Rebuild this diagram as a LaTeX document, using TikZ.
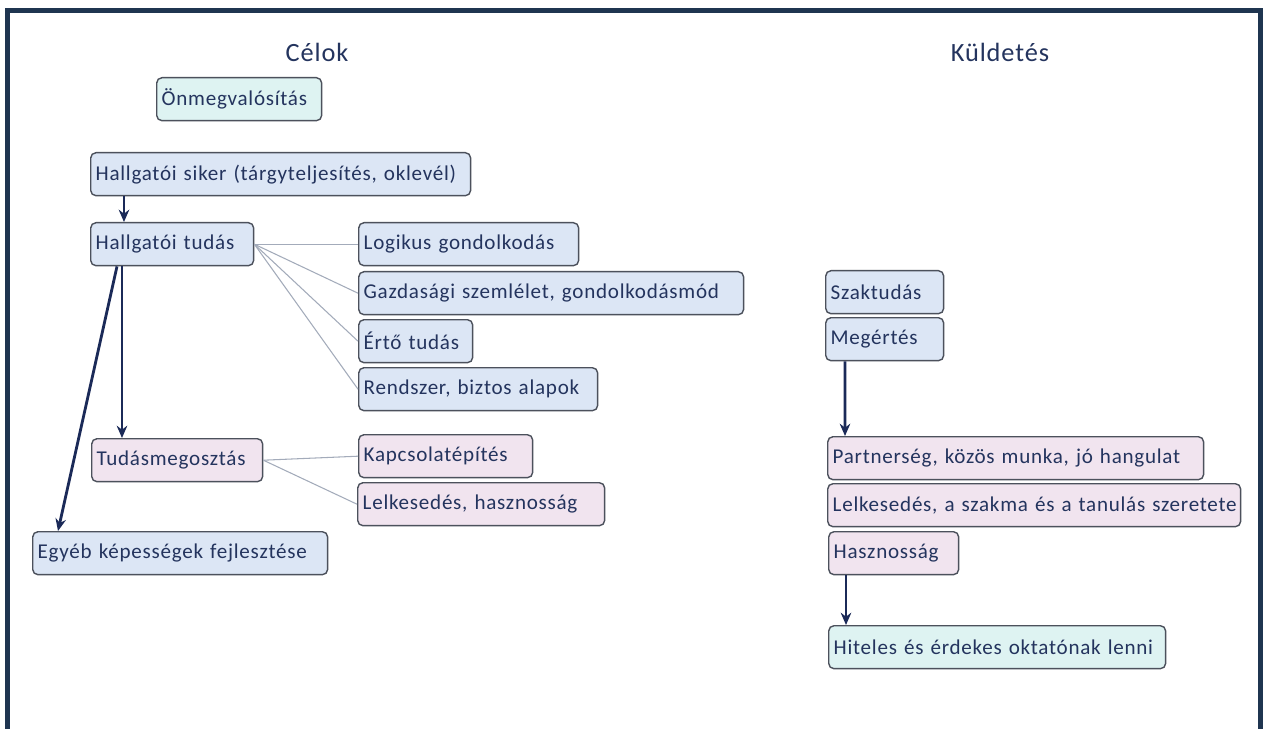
\documentclass[tikz,border=0pt]{standalone}
\usepackage{fontspec}
\setmainfont{Carlito}[LetterSpace=3.5]
\usepackage{tikz}
\usetikzlibrary{arrows.meta,positioning,calc}

\definecolor{frame}{HTML}{1F3550}
\definecolor{ink}{HTML}{24345E}
\definecolor{edge}{HTML}{4C515C}
\definecolor{flowc}{HTML}{1B2A58}
\definecolor{thinc}{HTML}{A3ABBA}
\definecolor{kekfill}{HTML}{DCE6F5}
\definecolor{rozsafill}{HTML}{F1E4EF}
\definecolor{turkizfill}{HTML}{DEF3F2}

\tikzset{
  box/.style={draw=edge, line width=0.8pt, rounded corners=3pt, anchor=north west,
    inner xsep=0.1cm, inner ysep=0pt, minimum height=0.86cm, text width=#1,
    align=left, text=ink, font=\fontsize{12}{14}\selectfont},
  kekbox/.style={box=#1, fill=kekfill},
  rozsabox/.style={box=#1, fill=rozsafill},
  turkizbox/.style={box=#1, fill=turkizfill},
  flow/.style={draw=flowc, line width=1.6pt, -{Stealth[length=7pt,width=6pt]}},
  thin line/.style={draw=thinc, line width=0.6pt},
  title/.style={text=ink, font=\fontsize{15}{17}\selectfont}
}

\begin{document}
\begin{tikzpicture}[x=0.02cm,y=-0.02cm]
\useasboundingbox[fill=white] (0,0) rectangle (1270,729);
% keret
\draw[frame, line width=0.1cm] (7.5,729) -- (7.5,10.5) -- (1260.5,10.5) -- (1260.5,729);

% Celok
\node[title] (celok) at (317,52) {Célok};
\node[turkizbox=3.10cm] (onmeg) at (156,77) {Önmegvalósítás};
\node[kekbox=7.40cm] (siker) at (90,152) {Hallgatói siker (tárgyteljesítés, oklevél)};
\node[kekbox=3.06cm] (tudas) at (90,222) {Hallgatói tudás};

\node[kekbox=4.20cm] (logikus) at (358,222) {Logikus gondolkodás};
\node[kekbox=7.50cm] (gazd) at (358,271) {Gazdasági szemlélet, gondolkodásmód};
\node[kekbox=2.08cm] (erto) at (358,319) {Értő tudás};
\node[kekbox=4.58cm] (rendszer) at (358,367) {Rendszer, biztos alapok};

\node[rozsabox=3.22cm] (megoszt) at (91,438) {Tudásmegosztás};
\node[rozsabox=3.28cm] (kapcs) at (358,434) {Kapcsolatépítés};
\node[rozsabox=4.74cm] (lelk) at (357,482) {Lelkesedés, hasznosság};

\node[kekbox=5.70cm] (egyeb) at (32,531) {Egyéb képességek fejlesztése};

\foreach \n in {logikus,gazd,erto,rendszer}
  \draw[thin line] (tudas.east) -- (\n.west);
\foreach \n in {kapcs,lelk}
  \draw[thin line] (megoszt.east) -- (\n.west);

\draw[flow] ([xshift=0.68cm]siker.south west) -- ([xshift=0.68cm]tudas.north west);
\draw[flow] ([xshift=0.64cm]tudas.south west) -- ([xshift=0.62cm]megoszt.north west);
\draw[flow] ([xshift=0.54cm]tudas.south west) -- ([xshift=0.52cm]egyeb.north west);

% Kuldetes
\node[title] (kuld) at (1000,52) {Küldetés};
\node[kekbox=2.16cm] (szak) at (825,270) {Szaktudás};
\node[kekbox=2.16cm] (megert) at (825,317) {Megértés};
\node[rozsabox=7.32cm] (partner) at (827,436) {Partnerség, közös munka, jó hangulat};
\node[rozsabox=8.06cm] (szeret) at (827,483) {\mbox{Lelkesedés, a szakma és a tanulás szeretete}};
\node[rozsabox=2.40cm] (hasznos) at (828,531) {Hasznosság};
\node[turkizbox=6.54cm] (hiteles) at (828,625) {Hiteles és érdekes oktatónak lenni};

\draw[flow] ([xshift=0.40cm]megert.south west) -- ([xshift=0.36cm]partner.north west);
\draw[flow] ([xshift=0.36cm]hasznos.south west) -- ([xshift=0.36cm]hiteles.north west);

\end{tikzpicture}
\end{document}
